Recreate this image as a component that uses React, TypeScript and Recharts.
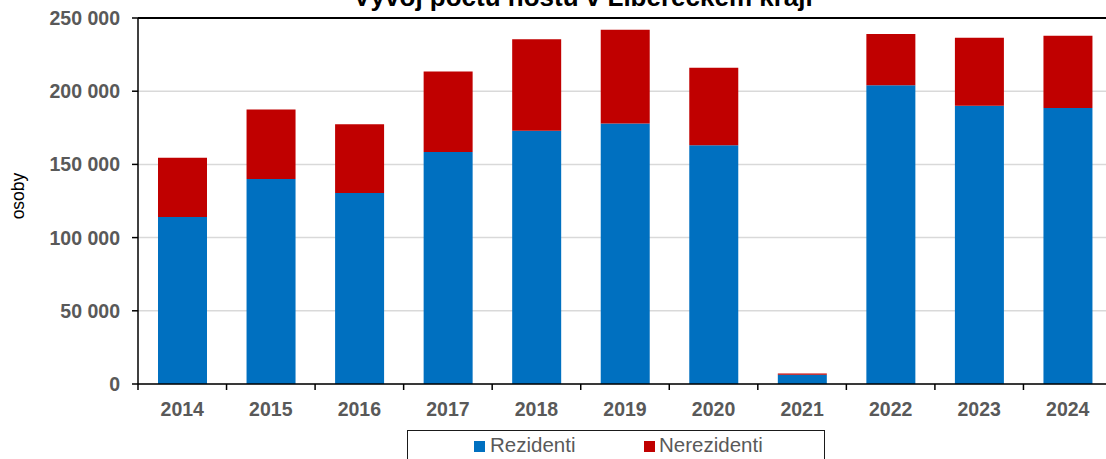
import React from "react";
import {
  BarChart,
  Bar,
  XAxis,
  YAxis,
  CartesianGrid,
  ReferenceLine,
  Legend,
} from "recharts";

const years = ["2014", "2015", "2016", "2017", "2018", "2019", "2020", "2021", "2022", "2023", "2024"];
const rezidenti = [114000, 140000, 130500, 158500, 173000, 178000, 163000, 6300, 204000, 190000, 188500];
const nerezidenti = [40500, 47500, 47000, 55000, 62500, 64000, 53000, 900, 35000, 46500, 49300];
const yTicks = [0, 50000, 100000, 150000, 200000, 250000];

const title = "Vývoj počtu hostů v Libereckém kraji";
const seriesNames = { rez: "Rezidenti", nerez: "Nerezidenti" };
const colors = { rez: "#0070C0", nerez: "#C00000" };

const data = years.map((y, i) => ({ year: y, rez: rezidenti[i], nerez: nerezidenti[i] }));

const FONT = '"Liberation Sans", Arial, sans-serif';
const CHART_W = 1120;
const CHART_H = 459;
const Y_W = 138;
const M_RIGHT = 8;
const BAND = (CHART_W - Y_W - M_RIGHT) / years.length;

const fmt = (v: number) => String(v).replace(/\B(?=(\d{3})+(?!\d))/g, " ");

const XTick = (props: any) => {
  const { x, y, payload } = props;
  const half = payload && typeof payload.offset === "number" && payload.offset > 0 ? payload.offset : BAND / 2;
  return (
    <g>
      <line x1={x - half} x2={x - half} y1={y} y2={y + 6} stroke="#000" strokeWidth={1.5} />
      <text x={x} y={y + 32} textAnchor="middle" fontFamily={FONT} fontWeight="bold" fontSize={19.5} fill="#595959">
        {payload.value}
      </text>
    </g>
  );
};

const LegendBox = () => (
  <div
    style={{
      width: 418,
      height: 44,
      boxSizing: "border-box",
      border: "1.5px solid #1a1a1a",
      position: "relative",
      fontFamily: FONT,
      fontSize: 20.5,
      color: "#595959",
      background: "#fff",
    }}
  >
    <div style={{ position: "absolute", left: 66, top: 10, width: 11, height: 11, background: colors.rez }} />
    <div style={{ position: "absolute", left: 82, top: 2, lineHeight: "24px", whiteSpace: "nowrap" }}>{seriesNames.rez}</div>
    <div style={{ position: "absolute", left: 236, top: 10, width: 11, height: 11, background: colors.nerez }} />
    <div style={{ position: "absolute", left: 251, top: 2, lineHeight: "24px", whiteSpace: "nowrap" }}>{seriesNames.nerez}</div>
  </div>
);

export default function App() {
  return (
    <div style={{ position: "fixed", left: 0, top: 0, width: 1106, height: 459, overflow: "hidden", background: "#fff" }}>
      <BarChart
        width={CHART_W}
        height={CHART_H}
        data={data}
        margin={{ top: 18, right: M_RIGHT, left: 0, bottom: 35 }}
        barSize={49}
      >
        <CartesianGrid vertical={false} stroke="#d9d9d9" strokeWidth={1.5} />
        <YAxis
          width={Y_W}
          domain={[0, 250000]}
          ticks={yTicks}
          tickFormatter={fmt}
          tickSize={6}
          tickMargin={12}
          axisLine={{ stroke: "#000", strokeWidth: 1.5 }}
          tickLine={{ stroke: "#000", strokeWidth: 1.5 }}
          tick={{ fill: "#595959", fontFamily: FONT, fontWeight: "bold", fontSize: 19.5 }}
          interval={0}
          label={{
            content: () => (
              <text
                x={24}
                y={196}
                transform="rotate(-90, 24, 196)"
                textAnchor="middle"
                fontFamily={FONT}
                fontSize={17.5}
                fill="#000"
              >
                osoby
              </text>
            ),
          }}
        />
        <XAxis
          dataKey="year"
          height={40}
          tickSize={0}
          tickMargin={0}
          tickLine={false}
          axisLine={{ stroke: "#000", strokeWidth: 1.5 }}
          tick={<XTick />}
          interval={0}
        />
        <ReferenceLine y={250000} stroke="#000" strokeWidth={2} ifOverflow="extendDomain" />
        <Legend
          layout="horizontal"
          verticalAlign="middle"
          align="center"
          content={<LegendBox />}
          wrapperStyle={{ position: "absolute", left: 407, top: 430, width: 418, height: 44 }}
        />
        <Bar dataKey="rez" name={seriesNames.rez} stackId="a" fill={colors.rez} isAnimationActive={false} />
        <Bar dataKey="nerez" name={seriesNames.nerez} stackId="a" fill={colors.nerez} isAnimationActive={false} />
      </BarChart>
      <svg width={1106} height={30} style={{ position: "absolute", left: 0, top: 0 }}>
        <text x={583} y={6} textAnchor="middle" fontFamily={FONT} fontWeight="bold" fontSize={26} fill="#000">
          {title}
        </text>
      </svg>
    </div>
  );
}
